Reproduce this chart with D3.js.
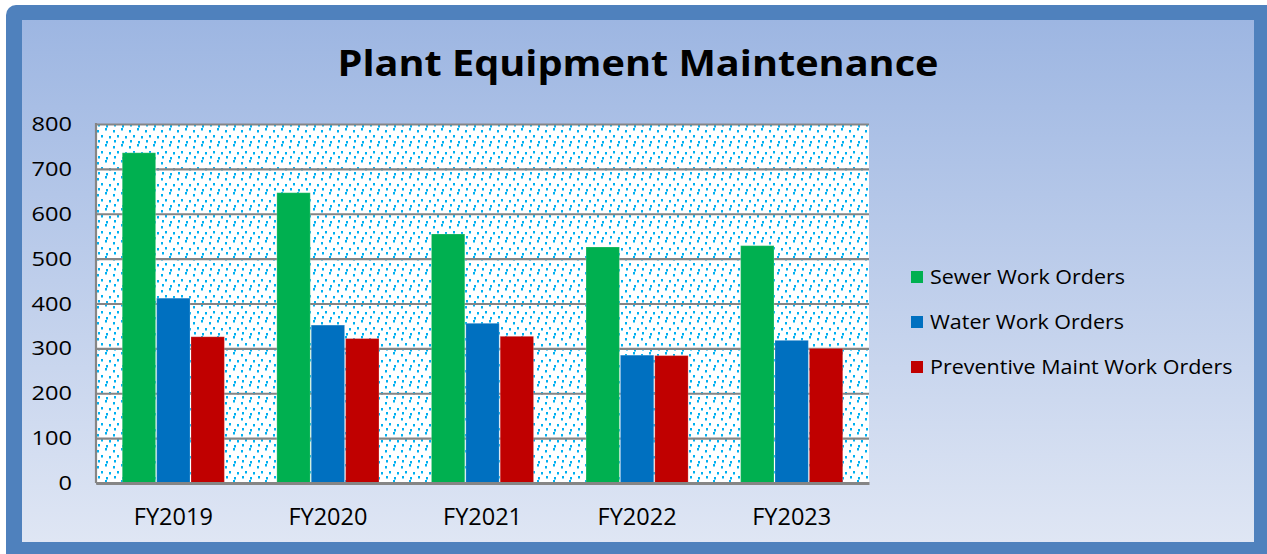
<!DOCTYPE html>
<html><head><meta charset="utf-8">
<script src="https://cdn.jsdelivr.net/npm/d3@7"></script>
<style>html,body{margin:0;padding:0;background:#fff;}svg{display:block;}</style>
</head><body>
<script>
const categories = ["FY2019","FY2020","FY2021","FY2022","FY2023"];
const seriesNames = ["Sewer Work Orders","Water Work Orders","Preventive Maint Work Orders"];
const sewer = [737, 648, 556, 527, 530];
const water = [413, 353, 357, 286, 319];
const preventive = [327, 323, 328, 285, 301];
const yTicks = [0,100,200,300,400,500,600,700,800];
const colors = ["#00b050","#0070c0","#c00000"];
const seriesValues = [sewer, water, preventive];

(function(){
const W = 1267, H = 554;
const svg = d3.select("body").append("svg").attr("width", W).attr("height", H);
const defs = svg.append("defs");
const grad = defs.append("linearGradient").attr("id","bg").attr("x1",0).attr("y1",0).attr("x2",0).attr("y2",1);
grad.append("stop").attr("offset","0%").attr("stop-color","#9db6e2");
grad.append("stop").attr("offset","100%").attr("stop-color","#dfe6f4");
const pat = defs.append("pattern").attr("id","dots").attr("patternUnits","userSpaceOnUse").attr("width",16).attr("height",16);
pat.append("rect").attr("width",16).attr("height",16).attr("fill","#ffffff");
[[1,2],[9,0],[5,7],[13,8],[2,12],[10,13]].forEach(([x,y])=>pat.append("rect").attr("x",x).attr("y",y).attr("width",2).attr("height",2.5).attr("fill","#00b0f0"));

// frame
svg.append("rect").attr("x",6).attr("y",5).attr("width",W+20).attr("height",H+20).attr("rx",10).attr("fill","#4f81bd");
svg.append("rect").attr("x",22).attr("y",20).attr("width",1254-22).attr("height",542-20).attr("fill","url(#bg)");

// title
svg.append("text").attr("x",638).attr("y",76).attr("text-anchor","middle")
  .attr("font-family","Open Sans").attr("font-weight","bold").attr("font-size",35)
  .attr("textLength",601).attr("lengthAdjust","spacingAndGlyphs")
  .text("Plant Equipment Maintenance");

const pl = 96, pr = 869, pt = 124, pb = 483;
const x0 = d3.scaleBand().domain(categories).range([pl,pr]).paddingInner(0.333).paddingOuter(0.1667);
const x1 = d3.scaleBand().domain(seriesNames).range([0,x0.bandwidth()]);
const y = d3.scaleLinear().domain([0,800]).range([pb,pt]);

svg.append("rect").attr("x",pl).attr("y",pt).attr("width",pr-pl).attr("height",pb-pt).attr("fill","url(#dots)");

// gridlines
const yAxis = d3.axisLeft(y).tickValues(yTicks).tickSize(-(pr-pl)).tickFormat("");
const gy = svg.append("g").attr("transform",`translate(${pl},0)`).call(yAxis);
gy.select(".domain").remove();
gy.selectAll("line").attr("stroke","#858585").attr("stroke-width",2.2);

svg.append("line").attr("x1",pl).attr("x2",pl).attr("y1",pt-1).attr("y2",pb).attr("stroke","#858585").attr("stroke-width",2.2);

// bars
const groups = svg.append("g").selectAll("g").data(categories).join("g")
  .attr("transform", d=>`translate(${x0(d)},0)`);
groups.selectAll("rect").data((d,i)=>seriesNames.map((s,j)=>({s, v: seriesValues[j][i], c: colors[j]})))
  .join("rect")
  .attr("x", d=>x1(d.s)+0.5).attr("width", x1.bandwidth()-1)
  .attr("y", d=>y(d.v)+0.5).attr("height", d=>pb-y(d.v)-0.5)
  .attr("fill", d=>d.c)
  .attr("stroke", "#ffffff").attr("stroke-opacity",0.2).attr("stroke-width",1);

// bottom axis
const gx = svg.append("g").attr("transform",`translate(0,${pb})`).call(d3.axisBottom(x0).tickSize(0).tickPadding(25));
gx.select(".domain").attr("stroke","#858585").attr("stroke-width",3);
gx.selectAll("text").attr("font-family","Open Sans").attr("font-size",23.5).attr("fill","#000");

// y labels
svg.append("g").selectAll("text").data(yTicks).join("text")
  .attr("transform",d=>`translate(72,${y(d)}) scale(1.18,1)`)
  .attr("dy","0.35em").attr("text-anchor","end")
  .attr("font-family","Open Sans").attr("font-size",20).attr("fill","#000")
  .text(d=>d);

// legend
const lg = svg.append("g").selectAll("g").data(seriesNames).join("g")
  .attr("transform",(d,i)=>`translate(911,${277+i*45})`);
lg.append("rect").attr("x",0).attr("y",-6).attr("width",12).attr("height",12).attr("fill",(d,i)=>colors[i]);
lg.append("text").attr("transform","translate(19,0) scale(1.075,1)").attr("dy","0.35em")
  .attr("font-family","Open Sans").attr("font-size",20).attr("fill","#000").text(d=>d);
})();
</script>
</body></html>
